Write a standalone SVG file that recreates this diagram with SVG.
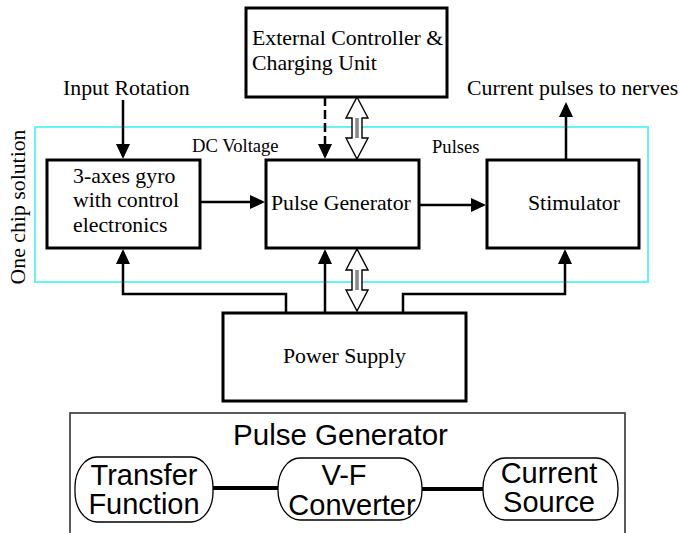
<svg xmlns="http://www.w3.org/2000/svg" width="681" height="533" viewBox="0 0 681 533">
<style>
.box{fill:#fff;stroke:#000;stroke-width:3}
.t{font-family:"Liberation Serif","Times New Roman",serif;font-size:21.8px;fill:#000}
.ts{font-family:"Liberation Serif","Times New Roman",serif;font-size:18.6px;fill:#000}
.h{font-family:"Liberation Sans",Arial,sans-serif;font-size:29px;fill:#000}
.ln{fill:none;stroke:#000;stroke-width:2.5}
.bub{fill:#fff;stroke:#000;stroke-width:1.3}
</style>
<defs>
<marker id="ah" viewBox="0 0 15 14" refX="12" refY="7" markerWidth="15" markerHeight="14" markerUnits="userSpaceOnUse" orient="auto">
<path d="M0,0 L15,7 L0,14 z" fill="#000"/>
</marker>
<g id="dbl">
<polygon points="0,0 11,21 5,21 5,41 11,41 0,62 -11,41 -5,41 -5,21 -11,21" fill="#fff" stroke="#000" stroke-width="1.4"/>
<rect x="-1.8" y="21" width="3.6" height="20" fill="#8a8a8a"/>
</g>
</defs>

<rect id="chip" x="35" y="127" width="613" height="155" fill="none" stroke="#66f5f5" stroke-width="2"/>
<text class="t" transform="translate(25,207) rotate(-90)" text-anchor="middle">One chip solution</text>

<g id="connectors">
<line class="ln" x1="123" y1="100" x2="123" y2="156" marker-end="url(#ah)"/>
<line class="ln" x1="200" y1="202" x2="262" y2="202" marker-end="url(#ah)"/>
<line class="ln" x1="419" y1="205" x2="483" y2="205" marker-end="url(#ah)"/>
<line class="ln" x1="566" y1="160" x2="566" y2="105" marker-end="url(#ah)"/>
<line class="ln" x1="325" y1="97" x2="325" y2="156" stroke-dasharray="9 4" marker-end="url(#ah)"/>
<line class="ln" x1="325" y1="313" x2="325" y2="252" marker-end="url(#ah)"/>
<path class="ln" d="M286,313 V294 H123 V252" marker-end="url(#ah)"/>
<path class="ln" d="M403,313 V294 H565 V252" marker-end="url(#ah)"/>
<use href="#dbl" x="357" y="97"/>
<use href="#dbl" x="357" y="249"/>
<line x1="213" y1="488" x2="278" y2="488" stroke="#000" stroke-width="4"/>
<line x1="422" y1="489" x2="483" y2="489" stroke="#000" stroke-width="4"/>
</g>

<g id="ext">
<rect class="box" x="246" y="8" width="201" height="89"/>
<text class="t" x="252" y="45">External Controller &amp;</text>
<text class="t" x="252" y="70">Charging Unit</text>
</g>
<text class="t" x="63" y="95">Input Rotation</text>
<text class="t" x="467" y="95">Current pulses to nerves</text>
<text class="ts" x="192" y="152">DC Voltage</text>
<text class="ts" x="432" y="153">Pulses</text>

<g id="gyro">
<rect class="box" x="47" y="160" width="153" height="88"/>
<text class="t" x="73" y="183">3-axes gyro</text>
<text class="t" x="73" y="207">with control</text>
<text class="t" x="73" y="232">electronics</text>
</g>
<g id="pulsegen">
<rect class="box" x="266" y="160" width="153" height="88"/>
<text class="t" x="271" y="210">Pulse Generator</text>
</g>
<g id="stim">
<rect class="box" x="487" y="160" width="152" height="88"/>
<text class="t" x="528" y="210">Stimulator</text>
</g>
<g id="power">
<rect class="box" x="223" y="313" width="243" height="88"/>
<text class="t" x="283" y="363">Power Supply</text>
</g>

<g id="pg-detail">
<rect x="70" y="413" width="555" height="140" fill="none" stroke="#333" stroke-width="1.6"/>
<text class="h" x="340.5" y="445" text-anchor="middle" style="font-size:29.5px">Pulse Generator</text>
</g>
<g id="transfer">
<rect class="bub" x="75" y="457" width="138" height="65" rx="22" ry="30"/>
<text class="h" x="144" y="485" text-anchor="middle">Transfer</text>
<text class="h" x="144" y="514" text-anchor="middle">Function</text>
</g>
<g id="vf">
<rect class="bub" x="278" y="458" width="144" height="62" rx="22" ry="30"/>
<text class="h" x="344" y="485" text-anchor="middle">V-F</text>
<text class="h" x="352" y="515" text-anchor="middle">Converter</text>
</g>
<g id="current">
<rect class="bub" x="483" y="458" width="135" height="62" rx="22" ry="30"/>
<text class="h" x="549" y="483" text-anchor="middle">Current</text>
<text class="h" x="549" y="512" text-anchor="middle">Source</text>
</g>
</svg>
